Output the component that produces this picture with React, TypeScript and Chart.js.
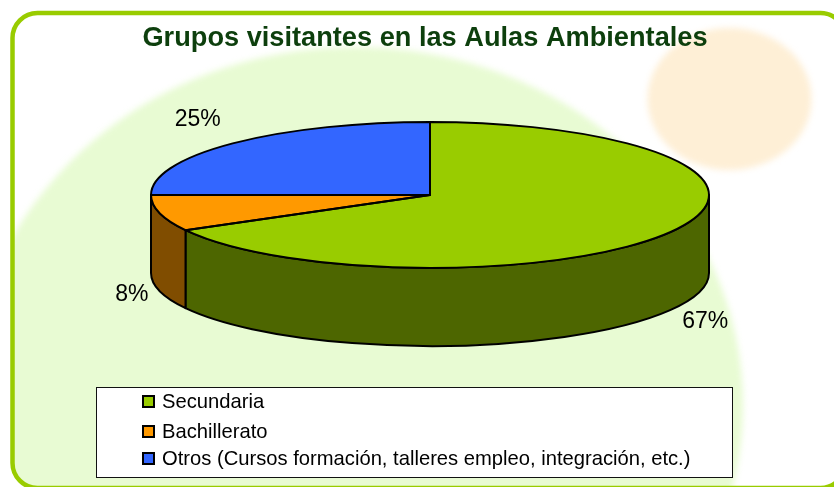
import React, { useEffect, useRef } from "react";
import { Chart, registerables } from "chart.js";

Chart.register(...registerables);

const titleText = "Grupos visitantes en las Aulas Ambientales";
const categories = [
  "Secundaria",
  "Bachillerato",
  "Otros (Cursos formación, talleres empleo, integración, etc.)",
];
const shares = [67, 8, 25];
const topColors = ["#99CC00", "#FF9900", "#3366FF"];
const sideColors = ["#4D6600", "#804D00", "#1A3380"];
const labelOffsets = [
  { dx: 35, dy: 89 },
  { dx: -28, dy: 82 },
  { dx: -35, dy: -24 },
];
const legendRowY = [402, 432, 459];

const FONT = '"Liberation Sans", Arial, sans-serif';
const TILT = 73 / 279;
const DEPTH = 78;

const piePlugin = {
  id: "tiltedPie",
  beforeDraw(chart: any) {
    const ctx = chart.ctx;
    ctx.save();
    ctx.fillStyle = "#FFFFFF";
    ctx.fillRect(0, 0, chart.width, chart.height);
    ctx.beginPath();
    ctx.roundRect(12.5, 13, 833, 475, 25);
    ctx.save();
    ctx.clip();
    ctx.filter = "blur(3px)";
    ctx.fillStyle = "#E8FBD3";
    ctx.beginPath();
    ctx.ellipse(355, 405, 388, 358, 0, 0, Math.PI * 2);
    ctx.fill();
    ctx.fillStyle = "#FEEFD6";
    ctx.beginPath();
    ctx.ellipse(729.5, 99, 82, 71, 0, 0, Math.PI * 2);
    ctx.fill();
    ctx.restore();
    ctx.strokeStyle = "#99CC00";
    ctx.lineWidth = 4.5;
    ctx.beginPath();
    ctx.roundRect(12.5, 13, 833, 475, 25);
    ctx.stroke();
    ctx.restore();
  },
  beforeDatasetsDraw(chart: any) {
    const ctx = chart.ctx;
    const arcs = chart.getDatasetMeta(0).data;
    const first = arcs[0];
    const cx = first.x;
    const cy = first.y;
    const r = first.outerRadius;
    ctx.save();
    ctx.lineWidth = 2;
    ctx.lineJoin = "round";
    ctx.strokeStyle = "#000000";

    // side walls
    arcs.forEach((arc: any, i: number) => {
      const a0 = Math.max(arc.startAngle, 0);
      const a1 = Math.min(arc.endAngle, Math.PI);
      if (a1 <= a0) return;
      ctx.save();
      ctx.translate(cx, cy);
      ctx.scale(1, TILT);
      ctx.beginPath();
      ctx.arc(0, 0, r, a0, a1);
      ctx.arc(0, DEPTH / TILT, r, a1, a0, true);
      ctx.closePath();
      ctx.restore();
      ctx.fillStyle = sideColors[i];
      ctx.fill();
      ctx.stroke();
    });

    // top faces, drawn by the arc elements themselves
    arcs.forEach((arc: any) => {
      ctx.save();
      ctx.translate(cx, cy);
      ctx.scale(1, TILT);
      ctx.translate(-cx, -cy);
      arc.draw(ctx);
      ctx.restore();
    });
    arcs.forEach((arc: any) => {
      ctx.save();
      ctx.translate(cx, cy);
      ctx.scale(1, TILT);
      ctx.beginPath();
      ctx.moveTo(0, 0);
      ctx.arc(0, 0, r, arc.startAngle, arc.endAngle);
      ctx.closePath();
      ctx.restore();
      ctx.stroke();
    });

    // value labels
    ctx.fillStyle = "#000000";
    ctx.font = `23px ${FONT}`;
    ctx.textAlign = "center";
    ctx.textBaseline = "middle";
    arcs.forEach((arc: any, i: number) => {
      const mid = (arc.startAngle + arc.endAngle) / 2;
      const x = cx + r * Math.cos(mid) + labelOffsets[i].dx;
      const y = cy + r * TILT * Math.sin(mid) + labelOffsets[i].dy;
      ctx.fillText(`${chart.data.datasets[0].data[i]}%`, x, y);
    });
    ctx.restore();
    return false;
  },
  afterDraw(chart: any) {
    const ctx = chart.ctx;
    ctx.save();
    ctx.fillStyle = "#0D3F0D";
    ctx.font = `bold 27.2px ${FONT}`;
    ctx.textAlign = "center";
    ctx.textBaseline = "middle";
    ctx.fillText(titleText, 425, 39);

    ctx.fillStyle = "#FFFFFF";
    ctx.strokeStyle = "#111111";
    ctx.lineWidth = 1;
    ctx.fillRect(96.5, 387.5, 636, 90);
    ctx.strokeRect(96.5, 387.5, 636, 90);

    ctx.font = `20.2px ${FONT}`;
    ctx.textAlign = "left";
    categories.forEach((label, i) => {
      ctx.fillStyle = topColors[i];
      ctx.strokeStyle = "#000000";
      ctx.lineWidth = 2;
      ctx.fillRect(143, legendRowY[i] - 6, 11, 11);
      ctx.strokeRect(143, legendRowY[i] - 6, 11, 11);
      ctx.fillStyle = "#000000";
      ctx.fillText(label, 162, legendRowY[i]);
    });
    ctx.restore();
  },
};

export default function App() {
  const ref = useRef<HTMLCanvasElement | null>(null);
  useEffect(() => {
    if (!ref.current) return;
    const chart = new Chart(ref.current, {
      type: "pie",
      data: {
        labels: categories,
        datasets: [
          {
            data: shares,
            backgroundColor: topColors,
            borderWidth: 0,
            radius: 279,
          },
        ],
      },
      options: {
        responsive: false,
        animation: false,
        layout: { padding: { left: 26, right: 0, top: 0, bottom: 97 } },
        plugins: {
          legend: { display: false },
          tooltip: { enabled: false },
          title: { display: false },
        },
      },
      plugins: [piePlugin],
    } as any);
    return () => chart.destroy();
  }, []);
  return (
    <div style={{ position: "absolute", left: 0, top: 0, width: 834, height: 487, overflow: "hidden" }}>
      <canvas ref={ref} width={834} height={487} style={{ display: "block" }} />
    </div>
  );
}
